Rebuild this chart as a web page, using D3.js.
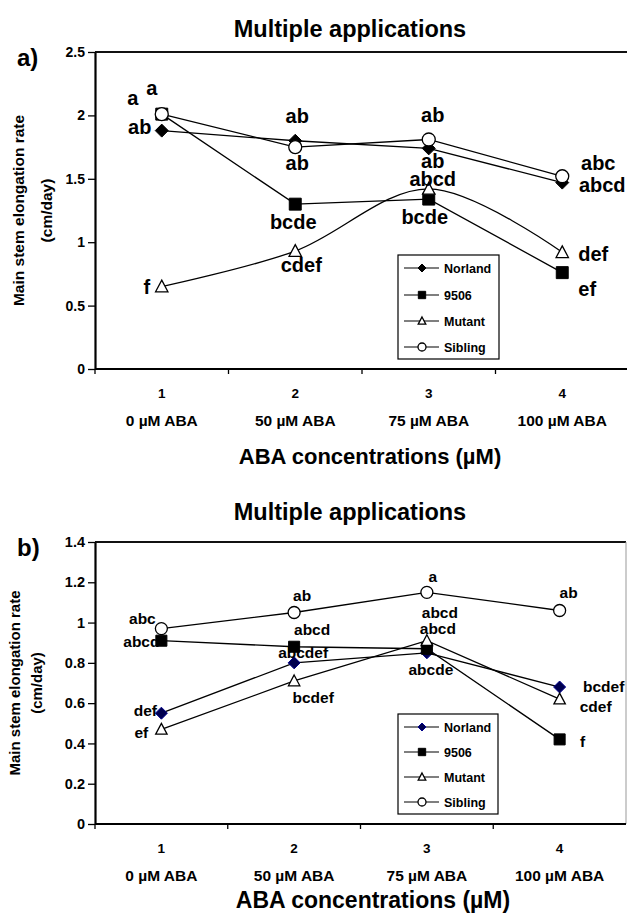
<!DOCTYPE html>
<html>
<head>
<meta charset="utf-8">
<script src="https://cdn.jsdelivr.net/npm/d3@7"></script>
<style>
  body { margin: 0; background: #fff; }
  text { font-family: "Liberation Sans", Arial, sans-serif; font-weight: bold; fill: #000; }
</style>
</head>
<body>
<svg id="chart" width="627" height="917"></svg>
<script>
// ---- data ----
var categories = ["1", "2", "3", "4"];
var concLabels = ["0 µM ABA", "50 µM ABA", "75 µM ABA", "100 µM ABA"];
var seriesNames = ["Norland", "9506", "Mutant", "Sibling"];

// panel a)
var aNorland = [1.88, 1.80, 1.74, 1.47];
var a9506    = [2.01, 1.30, 1.34, 0.76];
var aMutant  = [0.65, 0.93, 1.42, 0.92];
var aSibling = [2.01, 1.75, 1.81, 1.52];
var aLetters = [
  ["ab", "ab", "ab", "abcd"],
  ["a", "bcde", "bcde", "ef"],
  ["f", "cdef", "abcd", "def"],
  ["a", "ab", "ab", "abc"]
];
var aTicks = [0, 0.5, 1, 1.5, 2, 2.5];

// panel b)
var bNorland = [0.55, 0.80, 0.85, 0.68];
var b9506    = [0.91, 0.88, 0.87, 0.42];
var bMutant  = [0.47, 0.71, 0.91, 0.62];
var bSibling = [0.97, 1.05, 1.15, 1.06];
var bLetters = [
  ["def", "abcdef", "abcde", "bcdef"],
  ["abcd", "abcd", "abcd", "f"],
  ["ef", "bcdef", "abcd", "cdef"],
  ["abc", "ab", "a", "ab"]
];
var bTicks = [0, 0.2, 0.4, 0.6, 0.8, 1, 1.2, 1.4];

// ---- layout ----
var svg = d3.select("#chart");

var panels = [
  {
    tag: "a)", tagY: 66, titleY: 37,
    top: 52, bottom: 369, left: 95, right: 629, rightBorder: false,
    ymax: 2.5, ticks: aTicks, tickFont: 14,
    series: [aNorland, a9506, aMutant, aSibling], letters: aLetters,
    // label centre offsets from each point [dx, dy]
    offsets: [
      [[-22, -4], [2, -25], [4, 12], [40, 2]],
      [[-29, -16], [-2, 18], [-4, 18], [25, 16]],
      [[-15, 0], [6, 14], [4, -10], [31, 1]],
      [[-10, -26], [2, 16], [4, -25], [36, -13]]
    ],
    letterFont: 20, smoothMutant: true, norlandColor: "#000",
    numY: 398, labY: 426, axTitleY: 464, axTitleX: 370, axTitleFont: 22,
    yLab1: 24, yLab2: 52, yLabFont: 15.5,
    legend: { x: 398, y: 255, w: 101, h: 104, rows: [268, 295, 321, 347] },
    mk: 6.5
  },
  {
    tag: "b)", tagY: 556, titleY: 520,
    top: 542, bottom: 824, left: 95, right: 626, rightBorder: true,
    ymax: 1.4, ticks: bTicks, tickFont: 14.5,
    series: [bNorland, b9506, bMutant, bSibling], letters: bLetters,
    offsets: [
      [[-16, -3], [9, -10], [4, 17], [44, -1]],
      [[-20, 1], [18, -17], [13, -36], [23, 2]],
      [[-20, 3], [19, 16], [11, -12], [36, 7]],
      [[-19, -10], [8, -17], [6, -16], [9, -18]]
    ],
    letterFont: 15.5, smoothMutant: false, norlandColor: "#000050",
    numY: 853, labY: 881, axTitleY: 908, axTitleX: 373, axTitleFont: 23,
    yLab1: 19.5, yLab2: 42, yLabFont: 15,
    legend: { x: 398, y: 714, w: 100, h: 100, rows: [727, 752, 777, 802] },
    mk: 6
  }
];

function markerPath(type, s) {
  if (type === 0) return "M0," + (-s) + "L" + s + ",0L0," + s + "L" + (-s) + ",0Z";
  if (type === 1) return "M" + (-s) + "," + (-s) + "h" + (2 * s) + "v" + (2 * s) + "h" + (-2 * s) + "Z";
  return "M0," + (-s) + "L" + (s * 0.95) + "," + (s * 0.8) + "L" + (-s * 0.95) + "," + (s * 0.8) + "Z";
}

function drawMarker(g, type, x, y, s, p) {
  if (type === 3) {
    g.append("circle").attr("cx", x).attr("cy", y).attr("r", s)
      .attr("fill", "#fff").attr("stroke", "#000").attr("stroke-width", 1.3);
    return;
  }
  var fill = type === 2 ? "#fff" : "#000";
  var stroke = "#000";
  if (type === 0) { fill = p.norlandColor; stroke = p.norlandColor === "#000" ? "#000" : "#00008b"; }
  g.append("path").attr("d", markerPath(type, type === 1 ? s * 0.92 : s))
    .attr("transform", "translate(" + x + "," + y + ")")
    .attr("fill", fill).attr("stroke", stroke).attr("stroke-width", type === 2 ? 1.3 : 1);
}

panels.forEach(function(p) {
  var g = svg.append("g");

  var x = d3.scaleBand().domain(categories).range([p.left, p.right]);
  var y = d3.scaleLinear().domain([0, p.ymax]).range([p.bottom, p.top]);
  var cx = function(i) { return x(categories[i]) + x.bandwidth() / 2; };

  // title and panel tag
  g.append("text").attr("x", 350).attr("y", p.titleY).attr("text-anchor", "middle")
    .style("font-size", "23.5px").text("Multiple applications");
  g.append("text").attr("x", 17).attr("y", p.tagY).style("font-size", "24px").text(p.tag);

  // frame
  g.append("line").attr("x1", p.left).attr("x2", p.right).attr("y1", p.top).attr("y2", p.top)
    .attr("stroke", "#111").attr("stroke-width", 2);
  if (p.rightBorder) {
    g.append("line").attr("x1", p.right).attr("x2", p.right).attr("y1", p.top).attr("y2", p.bottom)
      .attr("stroke", "#999").attr("stroke-width", 1);
  }

  // y axis
  var ya = g.append("g").attr("transform", "translate(" + p.left + ",0)")
    .call(d3.axisLeft(y).tickValues(p.ticks).tickSize(7).tickSizeOuter(0).tickPadding(3)
      .tickFormat(function(d) { return String(d); }));
  ya.select(".domain").attr("stroke", "#000").attr("stroke-width", 2.2);
  ya.selectAll(".tick line").attr("stroke", "#000").attr("stroke-width", 1.3);
  ya.selectAll(".tick text").style("font-size", p.tickFont + "px")
    .style("font-family", "'Liberation Sans', Arial, sans-serif").style("font-weight", "bold")
    .attr("fill", "#000");

  // x axis
  g.append("line").attr("x1", p.left).attr("x2", p.right).attr("y1", p.bottom).attr("y2", p.bottom)
    .attr("stroke", "#000").attr("stroke-width", 2.2);
  categories.forEach(function(c, i) {
    g.append("line").attr("x1", x(c)).attr("x2", x(c)).attr("y1", p.bottom).attr("y2", p.bottom + 5)
      .attr("stroke", "#000").attr("stroke-width", 1.3);
    g.append("text").attr("x", cx(i)).attr("y", p.numY).attr("text-anchor", "middle")
      .style("font-size", "13.5px").text(c);
    g.append("text").attr("x", cx(i)).attr("y", p.labY).attr("text-anchor", "middle")
      .style("font-size", "15.5px").text(concLabels[i]);
  });
  g.append("text").attr("x", p.axTitleX).attr("y", p.axTitleY).attr("text-anchor", "middle")
    .style("font-size", p.axTitleFont + "px").text("ABA concentrations (µM)");

  // y axis title
  var ymid = (p.top + p.bottom) / 2;
  g.append("text").attr("transform", "translate(" + p.yLab1 + "," + ymid + ") rotate(-90)")
    .attr("text-anchor", "middle").style("font-size", p.yLabFont + "px").text("Main stem elongation rate");
  g.append("text").attr("transform", "translate(" + p.yLab2 + "," + ymid + ") rotate(-90)")
    .attr("text-anchor", "middle").style("font-size", p.yLabFont + "px").text("(cm/day)");

  // lines
  p.series.forEach(function(vals, s) {
    var line = d3.line()
      .x(function(d, i) { return cx(i); })
      .y(function(d) { return y(d); })
      .curve(s === 2 && p.smoothMutant ? d3.curveCardinal.tension(0) : d3.curveLinear);
    g.append("path").attr("d", line(vals)).attr("fill", "none")
      .attr("stroke", "#000").attr("stroke-width", 1.3);
  });

  // markers
  p.series.forEach(function(vals, s) {
    vals.forEach(function(v, i) { drawMarker(g, s, cx(i), y(v), p.mk, p); });
  });

  // letters
  p.series.forEach(function(vals, s) {
    vals.forEach(function(v, i) {
      var o = p.offsets[s][i];
      g.append("text").attr("x", cx(i) + o[0]).attr("y", y(v) + o[1]).attr("dy", "0.36em")
        .attr("text-anchor", "middle").style("font-size", p.letterFont + "px")
        .text(p.letters[s][i]);
    });
  });

  // legend
  var L = p.legend;
  g.append("rect").attr("x", L.x).attr("y", L.y).attr("width", L.w).attr("height", L.h)
    .attr("fill", "#fff").attr("stroke", "#000").attr("stroke-width", 1.2);
  seriesNames.forEach(function(name, s) {
    var ry = L.rows[s];
    g.append("line").attr("x1", L.x + 6).attr("x2", L.x + 41).attr("y1", ry).attr("y2", ry)
      .attr("stroke", "#000").attr("stroke-width", 1.2);
    drawMarker(g, s, L.x + 24, ry, 4, p);
    g.append("text").attr("x", L.x + 46).attr("y", ry).attr("dy", "0.36em")
      .style("font-size", "12.5px").text(name);
  });
});
</script>
</body>
</html>
